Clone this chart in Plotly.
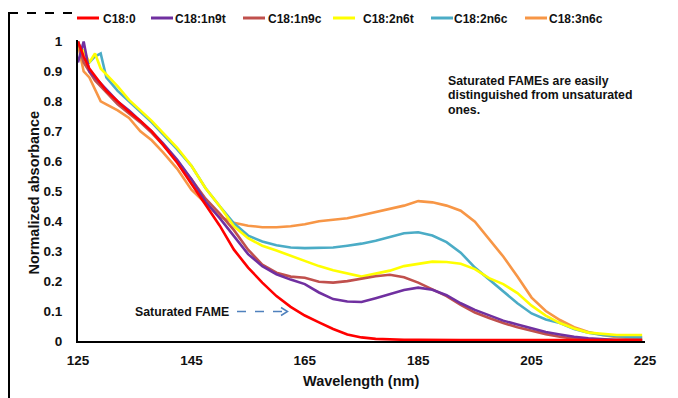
import plotly.graph_objects as go

# ---- data ----
wavelength = [125, 126, 127, 128, 129, 130, 132, 134, 136, 138, 140, 142.5, 145, 147.5, 150,
              152.5, 155, 157.5, 160, 162.5, 165, 167.5, 170, 172.5, 175, 177.5, 180, 182.5,
              185, 187.5, 190, 192.5, 195, 197.5, 200, 202.5, 205, 207.5, 210, 212.5, 215,
              217.5, 220, 222.5, 224.5]

c18_0 = [1.0, 0.95, 0.91, 0.885, 0.86, 0.835, 0.80, 0.765, 0.735, 0.70, 0.655, 0.595, 0.525,
         0.455, 0.385, 0.305, 0.245, 0.195, 0.15, 0.114, 0.085, 0.062, 0.04, 0.022, 0.012,
         0.007, 0.005, 0.004, 0.004, 0.003, 0.004, 0.003, 0.003, 0.004, 0.003, 0.003, 0.003,
         0.004, 0.003, 0.003, 0.003, 0.003, 0.003, 0.003, 0.003]
c18_1n9t = [0.93, 1.0, 0.9, 0.88, 0.86, 0.84, 0.80, 0.77, 0.735, 0.70, 0.66, 0.605, 0.54,
            0.465, 0.41, 0.35, 0.29, 0.25, 0.223, 0.205, 0.19, 0.162, 0.14, 0.132, 0.13,
            0.143, 0.157, 0.17, 0.178, 0.171, 0.153, 0.126, 0.104, 0.085, 0.068, 0.055,
            0.043, 0.03, 0.022, 0.014, 0.009, 0.005, 0.003, 0.003, 0.003]
c18_1n9c = [1.0, 0.93, 0.9, 0.87, 0.85, 0.83, 0.79, 0.76, 0.73, 0.695, 0.655, 0.60, 0.54,
            0.475, 0.425, 0.37, 0.305, 0.255, 0.228, 0.215, 0.211, 0.198, 0.195, 0.2, 0.208,
            0.216, 0.221, 0.213, 0.195, 0.173, 0.15, 0.121, 0.095, 0.077, 0.06, 0.046, 0.034,
            0.023, 0.014, 0.008, 0.005, 0.003, 0.003, 0.003, 0.003]
c18_2n6t = [0.98, 0.97, 0.93, 0.96, 0.91, 0.89, 0.85, 0.805, 0.77, 0.735, 0.695, 0.645, 0.585,
            0.51, 0.45, 0.383, 0.343, 0.318, 0.302, 0.285, 0.268, 0.25, 0.236, 0.225, 0.215,
            0.225, 0.235, 0.25, 0.257, 0.265, 0.264, 0.258, 0.24, 0.21, 0.19, 0.16, 0.118,
            0.085, 0.06, 0.042, 0.028, 0.023, 0.02, 0.02, 0.02]
c18_2n6c = [1.0, 0.94, 0.93, 0.95, 0.96, 0.88, 0.835, 0.80, 0.765, 0.73, 0.69, 0.64, 0.585,
            0.51, 0.45, 0.393, 0.352, 0.332, 0.32, 0.312, 0.31, 0.311, 0.312, 0.318, 0.325,
            0.335, 0.347, 0.36, 0.363, 0.352, 0.33, 0.295, 0.245, 0.205, 0.165, 0.126, 0.092,
            0.072, 0.06, 0.04, 0.028, 0.02, 0.016, 0.013, 0.012]
c18_3n6c = [0.99, 0.9, 0.88, 0.84, 0.8, 0.79, 0.77, 0.745, 0.70, 0.67, 0.63, 0.575, 0.505,
            0.46, 0.415, 0.395, 0.385, 0.38, 0.38, 0.383, 0.39, 0.40, 0.405, 0.41, 0.42, 0.43,
            0.44, 0.452, 0.467, 0.463, 0.452, 0.435, 0.398, 0.34, 0.282, 0.215, 0.145, 0.1,
            0.07, 0.046, 0.03, 0.02, 0.013, 0.01, 0.01]

series_names = ["C18:0", "C18:1n9t", "C18:1n9c", "C18:2n6t", "C18:2n6c", "C18:3n6c"]
series_values = [c18_0, c18_1n9t, c18_1n9c, c18_2n6t, c18_2n6c, c18_3n6c]
series_colors = ["#FF0000", "#7030A0", "#C0504D", "#FFFF00", "#4BACC6", "#F79646"]

x_tick_vals = [125, 145, 165, 185, 205, 225]
y_tick_vals = [0, 0.1, 0.2, 0.3, 0.4, 0.5, 0.6, 0.7, 0.8, 0.9, 1]
y_tick_text = ["0", "0.1", "0.2", "0.3", "0.4", "0.5", "0.6", "0.7", "0.8", "0.9", "1"]

note_lines = ["Saturated FAMEs are easily", "distinguished from unsaturated", "ones."]
arrow_label = "Saturated FAME"
x_title = "Wavelength (nm)"
y_title = "Normalized absorbance"

# ---- layout geometry ----
W, H = 678, 398
ML, MR, MT, MB = 78, 33, 40, 57
PW, PH = W - ML - MR, H - MT - MB
FONT = "Liberation Sans, Arial, sans-serif"


def px(xp):
    return (xp - ML) / PW


def py(yp):
    return (H - MB - yp) / PH


fig = go.Figure()
for name, vals, col in reversed(list(zip(series_names, series_values, series_colors))):
    fig.add_trace(go.Scatter(x=wavelength, y=vals, mode="lines", name=name,
                             line=dict(color=col, width=2.6), showlegend=False))

shapes = []
annotations = []

# manual legend across the top
legend_line_x = [77, 151, 243, 333, 431, 525]
legend_text_x = [102, 174, 267, 362, 453, 548]
for name, col, lx, tx in zip(series_names, series_colors, legend_line_x, legend_text_x):
    shapes.append(dict(type="line", xref="paper", yref="paper", x0=px(lx), x1=px(lx + 22),
                       y0=py(18), y1=py(18), line=dict(color=col, width=3)))
    annotations.append(dict(xref="paper", yref="paper", x=px(tx - 1), y=py(18.5), text="<b>%s</b>" % name,
                            showarrow=False, xanchor="left", yanchor="middle",
                            font=dict(family=FONT, size=12, color="#111")))

# note text
for i, t in enumerate(note_lines):
    annotations.append(dict(xref="paper", yref="paper", x=px(446), y=py(80.5 + i * 14.7),
                            text="<b>%s</b>" % t, showarrow=False, xanchor="left",
                            yanchor="middle", font=dict(family=FONT, size=12.3, color="#111")))

# saturated FAME label and dashed arrow
annotations.append(dict(xref="paper", yref="paper", x=px(133), y=py(311.5),
                        text="<b>%s</b>" % arrow_label, showarrow=False, xanchor="left",
                        yanchor="middle", font=dict(family=FONT, size=12.3, color="#111")))
shapes.append(dict(type="line", xref="paper", yref="paper", x0=px(237), x1=px(286),
                   y0=py(311.5), y1=py(311.5), line=dict(color="#4F81BD", width=1.5, dash="dash")))
shapes.append(dict(type="path", xref="paper", yref="paper",
                   path="M %f %f L %f %f L %f %f" % (px(281), py(307.5), px(287.5), py(311.5),
                                                     px(281), py(315.5)),
                   line=dict(color="#4F81BD", width=1.5)))

# axis titles
annotations.append(dict(xref="paper", yref="paper", x=px(361), y=py(380.5),
                        text="<b>%s</b>" % x_title, showarrow=False, xanchor="center",
                        yanchor="middle", font=dict(family=FONT, size=14.5, color="#111")))
annotations.append(dict(xref="paper", yref="paper", x=px(33), y=py(192.5),
                        text="<b>%s</b>" % y_title, showarrow=False, textangle=-90,
                        xanchor="center", yanchor="middle",
                        font=dict(family=FONT, size=14.5, color="#111")))

# slide frame fragments at left
shapes.append(dict(type="line", xref="paper", yref="paper", x0=px(9), x1=px(9),
                   y0=py(12), y1=py(400), line=dict(color="#000", width=2)))
shapes.append(dict(type="line", xref="paper", yref="paper", x0=px(9), x1=px(76),
                   y0=py(13), y1=py(13), line=dict(color="#000", width=2, dash="dash")))

fig.update_layout(
    width=W, height=H,
    margin=dict(l=ML, r=MR, t=MT, b=MB, pad=0),
    paper_bgcolor="white", plot_bgcolor="white",
    showlegend=False,
    shapes=shapes, annotations=annotations,
    font=dict(family=FONT, color="#111"),
    xaxis=dict(range=[125, 225], tickvals=x_tick_vals,
               ticktext=["<b>%d</b>" % v for v in x_tick_vals],
               showgrid=False, zeroline=False, showline=True, linecolor="#000", linewidth=2,
               ticks="", ticklabelstandoff=6, tickfont=dict(family=FONT, size=13.5, color="#111")),
    yaxis=dict(range=[0, 1.005], tickvals=y_tick_vals,
               ticktext=["<b>%s</b>" % t for t in y_tick_text],
               showgrid=False, zeroline=False, showline=True, linecolor="#000", linewidth=2,
               ticks="", ticklabelstandoff=11, tickfont=dict(family=FONT, size=13.5, color="#111")),
)

fig.write_html("out.html")
